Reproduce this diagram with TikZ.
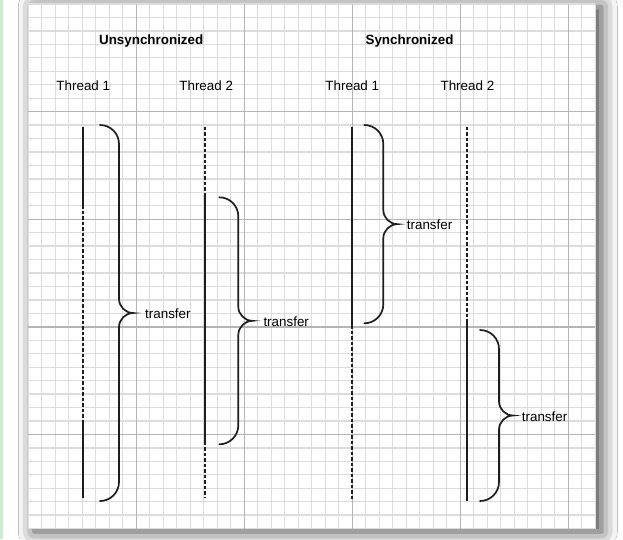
\documentclass[tikz,border=0pt]{standalone}
\usepackage{fontspec}
\setmainfont{Liberation Sans}
\usetikzlibrary{shadows.blur}
\definecolor{finegrid}{HTML}{DCDCDC}
\definecolor{majorgrid}{HTML}{B4B4B4}
\definecolor{mintstrip}{HTML}{C8EFD2}
\definecolor{ink}{HTML}{1E1E1E}
\tikzset{
  fineline/.style={draw=finegrid, line width=1.3pt},
  majorline/.style={draw=majorgrid, line width=1.4pt},
  solidthread/.style={draw=ink, line width=1.8pt},
  dashthread/.style={draw=ink, line width=1.8pt, dash pattern=on 3.6pt off 1.9pt},
  bracestyle/.style={draw=ink, line width=1.7pt, line cap=round},
  title/.style={font=\fontsize{13.4}{16}\selectfont\bfseries, inner sep=0pt, anchor=base},
  threadlabel/.style={font=\fontsize{13.4}{16}\selectfont, inner sep=0pt, anchor=base},
  translabel/.style={font=\fontsize{13.4}{16}\selectfont, inner sep=0pt, anchor=base west},
}
% brace: #1 name, #2 x0, #3 ytop, #4 ybot, #5 label x
\newcommand{\tbrace}[5]{%
  \pgfmathsetmacro\bm{(#3+#4)/2}%
  \coordinate (#1top) at (#2,#3);
  \coordinate (#1bot) at (#2,#4);
  \coordinate (#1tip) at ({#2+33},\bm);
  \draw[bracestyle] (#1top) .. controls ({#2+10.5},#3) and ({#2+19},{#3+8.5}) .. ({#2+19},{#3+19})
    -- ({#2+19},{\bm-14}) .. controls ({#2+19},{\bm-6.5}) and ({#2+25.5},\bm) .. (#1tip)
    .. controls ({#2+25.5},\bm) and ({#2+19},{\bm+6.5}) .. ({#2+19},{\bm+14})
    -- ({#2+19},{#4-19}) .. controls ({#2+19},{#4-8.5}) and ({#2+10.5},#4) .. (#1bot);
  \node[translabel] (#1lab) at (#5,{\bm+5.5}) {transfer};
}
\begin{document}
\begin{tikzpicture}[x=1pt,y=-1pt]
\useasboundingbox (0,0) rectangle (623,539);
\fill[white] (0,0) rectangle (623,539);
% paper
\fill[white, blur shadow={shadow xshift=6pt, shadow yshift=-3pt, shadow blur radius=16pt, shadow opacity=75}]
  (28.3,4) rectangle (595.3,528.5);
\fill[mintstrip] (0,0) rectangle (3.3,539);
\foreach \i in {0,...,42} \draw[fineline] ({28.3+\i*13.5},4) -- ({28.3+\i*13.5},528.5);
\foreach \j in {0,...,39} \draw[fineline] (28.3,{4+\j*13.45}) -- (595.3,{4+\j*13.45});
\foreach \i in {8,16,24,32,40} \draw[majorline] ({28.3+\i*13.5},4) -- ({28.3+\i*13.5},528.5);
\foreach \j in {8,16,24,32} \draw[majorline] (28.3,{4+\j*13.45}) -- (595.3,{4+\j*13.45});
% titles
\node[title] (unsync) at (151.2,44.3) {Unsynchronized};
\node[title] (sync) at (409.5,44.3) {Synchronized};
\node[threadlabel] (ut1) at (83.3,90.7) {Thread 1};
\node[threadlabel] (ut2) at (206.2,90.7) {Thread 2};
\node[threadlabel] (st1) at (352.3,90.7) {Thread 1};
\node[threadlabel] (st2) at (467.4,90.7) {Thread 2};
% thread timelines
\coordinate (u1a) at (83.3,126.7); \coordinate (u1b) at (83.3,205);
\coordinate (u1c) at (83.3,423);   \coordinate (u1d) at (83.3,498);
\draw[solidthread] (u1a) -- (u1b);
\draw[dashthread] (u1b) -- (u1c);
\draw[solidthread] (u1c) -- (u1d);
\coordinate (u2a) at (204.7,126.7); \coordinate (u2b) at (204.7,195);
\coordinate (u2c) at (204.7,441.7); \coordinate (u2d) at (204.7,498);
\draw[dashthread] (u2a) -- (u2b);
\draw[solidthread] (u2b) -- (u2c);
\draw[dashthread] (u2c) -- (u2d);
\coordinate (s1a) at (352.3,126.7); \coordinate (s1b) at (352.3,325);
\coordinate (s1c) at (352.3,501);
\draw[solidthread] (s1a) -- (s1b);
\draw[dashthread] (s1b) -- (s1c);
\coordinate (s2a) at (467.3,126.7); \coordinate (s2b) at (467.3,323);
\coordinate (s2c) at (467.3,501);
\draw[dashthread] (s2a) -- (s2b);
\draw[solidthread] (s2b) -- (s2c);
% braces
\tbrace{b1}{100}{125}{501}{145}
\tbrace{b2}{219.3}{197.3}{444.3}{263.3}
\tbrace{b3}{364.3}{125}{323.3}{406.7}
\tbrace{b4}{480}{330}{501}{521.7}
\end{tikzpicture}
\end{document}
